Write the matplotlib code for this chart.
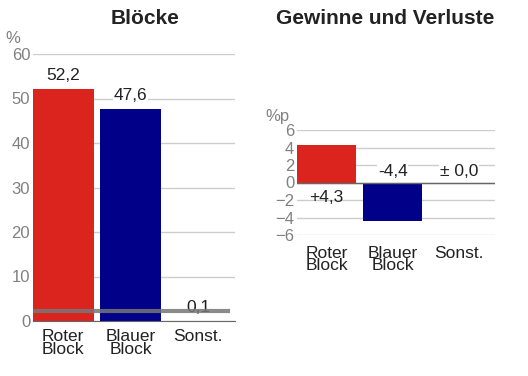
import matplotlib
matplotlib.use("Agg")
import matplotlib.pyplot as plt

plt.rcParams['font.family'] = ['Liberation Sans', 'DejaVu Sans']

categories = ["Roter\nBlock", "Blauer\nBlock", "Sonst."]
shares = [52.2, 47.6, 0.1]
share_labels = ["52,2", "47,6", "0,1"]
changes = [4.3, -4.4, 0.0]
change_labels = ["+4,3", "-4,4", "± 0,0"]
colors = ["#dc241f", "#000088", "#999999"]
threshold = 2.2

grid_col = "#cccccc"
tick_col = "#808080"
text_col = "#222222"

fig = plt.figure(figsize=(5.28, 3.76), dpi=100)

# left: Blöcke
ax1 = fig.add_axes([33/528, 1 - 321/376, 202/528, 267/376])
x = range(len(categories))
ax1.bar(x, shares, width=0.9, color=colors, zorder=2)
ax1.set_xlim(-0.45, 2.55)
ax1.set_ylim(0, 60)
ax1.set_yticks(range(0, 61, 10))
ax1.grid(axis="y", color=grid_col, linewidth=1, zorder=0)
for i, (v, lab) in enumerate(zip(shares, share_labels)):
    ax1.text(i, v + 1.3, lab, ha="center", va="bottom", fontsize=12.5,
             color=text_col, zorder=3,
             bbox=dict(facecolor="white", edgecolor="none", pad=0.5))
# threshold line drawn over bars and labels
ax1.axhline(threshold, xmin=0, xmax=0.965, color="#777777", linewidth=3,
            alpha=0.85, zorder=4)
ax1.set_xticks(list(x))
ax1.set_xticklabels(categories, fontsize=12.5, linespacing=0.78)
ax1.text(-0.1, 1.03, "%", transform=ax1.transAxes, fontsize=12,
         color=tick_col, ha="center", va="bottom")
fig.text(145/528, 1 - 19/376, "Blöcke", fontsize=15, fontweight="bold",
         ha="center", va="center", color=text_col)

# right: Gewinne und Verluste
ax2 = fig.add_axes([297/528, 1 - 235/376, 198/528, 105/376])
ax2.bar(x, changes, width=0.9, color=colors, zorder=2)
ax2.set_xlim(-0.45, 2.55)
ax2.set_ylim(-6, 6)
ax2.set_yticks(range(-6, 7, 2))
ax2.grid(axis="y", color=grid_col, linewidth=1, zorder=0)
ax2.axhline(0, color="#666666", linewidth=1, zorder=3)
for i, (v, lab) in enumerate(zip(changes, change_labels)):
    if v > 0:
        ax2.text(i, -0.8, lab, ha="center", va="top", fontsize=12.5,
                 color=text_col, zorder=5)
    else:
        ax2.text(i, 0.35, lab, ha="center", va="bottom", fontsize=12.5,
                 color=text_col, zorder=5,
                 bbox=dict(facecolor="white", edgecolor="none", pad=0.5))
ax2.set_xticks(list(x))
ax2.set_xticklabels(categories, fontsize=12.5, linespacing=0.78)
ax2.text(-0.1, 1.06, "%p", transform=ax2.transAxes, fontsize=12,
         color=tick_col, ha="center", va="bottom")
fig.text(385/528, 1 - 19/376, "Gewinne und Verluste", fontsize=15,
         fontweight="bold", ha="center", va="center", color=text_col)

for ax in (ax1, ax2):
    for s in ("top", "right", "left"):
        ax.spines[s].set_visible(False)
    ax.spines["bottom"].set_visible(ax is ax1)
    ax.spines["bottom"].set_color("#666666")
    ax.tick_params(axis="y", length=0, labelsize=12, labelcolor=tick_col, pad=2)
ax1.tick_params(axis="x", length=0, pad=6, labelcolor=text_col)
ax2.tick_params(axis="x", length=0, pad=8, labelcolor=text_col)

fig.savefig("out.png", dpi=100)
